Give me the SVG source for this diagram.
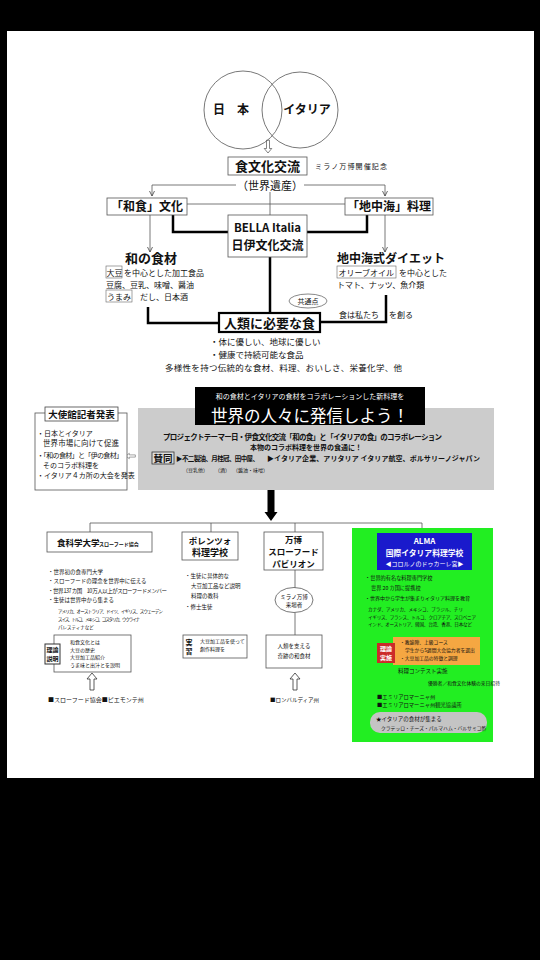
<svg xmlns="http://www.w3.org/2000/svg" width="540" height="960" viewBox="0 0 540 960">
<defs>
<style>
text{font-family:"Noto Sans CJK JP","Noto Sans",sans-serif;fill:#111}
.b{font-weight:bold}
.m{text-anchor:middle}
.w{fill:#fff}
.box{fill:#fff;stroke:#555;stroke-width:0.8}
.thin{stroke:#555;stroke-width:0.8;fill:none}
.thick{stroke:#000;stroke-width:2.5;fill:none}
.hol{fill:#fff;stroke:#333;stroke-width:0.8}
</style>
<marker id="ah" markerWidth="6" markerHeight="6" refX="5" refY="3" orient="auto" markerUnits="userSpaceOnUse"><path d="M0,0.5 L5,3 L0,5.5" fill="none" stroke="#444" stroke-width="0.8"/></marker>
<path id="hu" d="M0,0 L5,6 L2,6 L2,17 L-2,17 L-2,6 L-5,6 Z"/>
</defs>
<rect width="540" height="960" fill="#000"/>
<rect x="7" y="31" width="527" height="747" fill="#fff"/>

<g id="connectors">
<path class="thin" d="M152,185 H236 M304,185 H385"/>
<path class="thin" d="M152,185 V196" marker-end="url(#ah)"/>
<path class="thin" d="M385,185 V196" marker-end="url(#ah)"/>
<path class="thin" d="M270,192 V215"/>
<path class="thin" d="M187,204 H345"/>
<path class="thick" d="M173,215 V232 H228 M367,215 V232 H307"/>
<path class="thin" d="M150,215 V252" marker-end="url(#ah)"/>
<path class="thin" d="M385,215 V252" marker-end="url(#ah)"/>
<path class="thick" d="M270,257 V313"/>
<path class="thick" d="M148,307 V323 H219"/>
<path class="thick" d="M320,322 H386 V295"/>
<polygon points="267.5,490 274.5,490 274.5,512 277.5,512 271,521 264.5,512 267.5,512" fill="#000"/>
<path class="thin" d="M90,523 H422 M90,523 V532 M211,523 V532 M295,523 V532 M422,523 V528"/>
<path class="thin" d="M295,570 V588 M295,612.5 V635"/>
<use href="#hu" class="hol" transform="translate(268,153) rotate(180) scale(0.75)"/>
<use href="#hu" class="hol" transform="translate(126,456) rotate(-90) scale(0.55)"/>
<use href="#hu" class="hol" transform="translate(92,673)"/>
<use href="#hu" class="hol" transform="translate(295,673)"/>
<use href="#hu" class="hol" transform="translate(390,676)"/>
<path class="thin" d="M413,676 V692" marker-end="url(#ah)"/>
</g>

<g id="venn">
<circle cx="243" cy="110" r="39" fill="none" stroke="#555" stroke-width="0.8"/>
<circle cx="300" cy="110" r="38" fill="none" stroke="#555" stroke-width="0.8"/>
<text x="231" y="114" class="b m" font-size="12">日　本</text>
<text x="307" y="114" class="b m" font-size="12">イタリア</text>
</g>

<g id="shokubunka">
<rect x="228" y="157" width="79" height="18" class="box"/>
<text x="267.5" y="171" class="b m" font-size="13">食文化交流</text>
<text x="315" y="169" font-size="7" textLength="72">ミラノ万博開催記念</text>
<text x="270" y="190" class="m" font-size="11">（世界遺産）</text>
</g>

<g id="washoku">
<rect x="107" y="198" width="80" height="17" class="box"/>
<text x="147" y="211" class="b m" font-size="12">「和食」文化</text>
</g>

<g id="chichukai">
<rect x="345" y="198" width="88" height="17" class="box"/>
<text x="389" y="211" class="b m" font-size="12">「地中海」料理</text>
</g>

<g id="bella">
<rect x="228" y="215" width="79" height="42" class="box"/>
<text x="267.5" y="232" class="b m" font-size="11.5">BELLA Italia</text>
<text x="267.5" y="250" class="b m" font-size="12">日伊文化交流</text>
</g>

<g id="wanoshokuzai">
<text x="125" y="263" class="b" font-size="13">和の食材</text>
<rect x="106" y="266" width="16" height="12" fill="none" stroke="#666" stroke-width="0.6"/>
<text x="106.5" y="276" font-size="8">大豆</text>
<text x="124" y="276" font-size="8">を中心とした加工食品</text>
<text x="106" y="288" font-size="8">豆腐、豆乳、味噌、醤油</text>
<rect x="106" y="290" width="26" height="12" fill="none" stroke="#666" stroke-width="0.6"/>
<text x="107" y="300" font-size="8">うまみ</text>
<text x="140" y="300" font-size="8">だし、日本酒</text>
</g>

<g id="diet">
<text x="337" y="263" class="b" font-size="12">地中海式ダイエット</text>
<rect x="337" y="266" width="59" height="12" fill="none" stroke="#666" stroke-width="0.6"/>
<text x="338.5" y="276" font-size="8">オリーブオイル</text>
<text x="399" y="276" font-size="8">を中心とした</text>
<text x="337" y="288" font-size="8">トマト、ナッツ、魚介類</text>
</g>

<g id="kyotsuten">
<ellipse cx="308" cy="301" rx="19" ry="7" fill="#fff" stroke="#555" stroke-width="0.7"/>
<text x="308" y="304" class="m" font-size="7">共通点</text>
<text x="339" y="318" font-size="8">食は私たち</text>
<text x="389" y="318" font-size="8">を創る</text>
</g>

<g id="jinrui">
<rect x="219" y="313" width="101" height="19" fill="#fff" stroke="#000" stroke-width="2.2"/>
<text x="269.5" y="328" class="b m" font-size="13">人類に必要な食</text>
<text x="210" y="345" font-size="8.5">・体に優しい、地球に優しい</text>
<text x="210" y="358" font-size="8.5">・健康で持続可能な食品</text>
<text x="165" y="371" font-size="8.5" textLength="237">多様性を持つ伝統的な食材、料理、おいしさ、栄養化学、他</text>
</g>

<g id="hasshin">
<rect x="138" y="408" width="356" height="82" fill="#ccc"/>
<rect x="195" y="387" width="230" height="38" fill="#000"/>
<text x="310" y="399" class="m w" font-size="7">和の食材とイタリアの食材をコラボレーションした新料理を</text>
<text x="310" y="422" class="m w" font-size="16.5">世界の人々に発信しよう！</text>
<text x="163" y="440" class="b" font-size="7.5" textLength="279">プロジェクトテーマー日・伊食文化交流「和の食」と「イタリアの食」のコラボレーション</text>
<text x="306" y="450" class="b m" font-size="7">本物のコラボ料理を世界の食通に！</text>
<rect x="152" y="452" width="22" height="12" fill="#ddd" stroke="#333" stroke-width="0.8"/>
<text x="163" y="461.5" class="b m" font-size="9.5">賛同</text>
<text x="176" y="461" class="b" font-size="6.5" textLength="83">▶不二製油、月桂冠、田中屋、</text>
<text x="267" y="461" class="b" font-size="7" textLength="213">▶イタリア企業、アリタリア イタリア航空、ボルサリーノジャパン</text>
<text x="183" y="472" font-size="5">（豆乳他）</text>
<text x="215" y="472" font-size="5">（酒）</text>
<text x="233" y="472" font-size="5">（醤油・味噌）</text>
</g>

<g id="taishikan">
<rect x="35" y="413" width="92" height="77" class="box"/>
<rect x="45" y="407" width="73" height="14" fill="#fff" stroke="#444" stroke-width="0.8"/>
<text x="81.5" y="418" class="b m" font-size="9.5">大使館記者発表</text>
<text x="37" y="436" font-size="7">・日本とイタリア</text>
<text x="43" y="446" font-size="7.5" textLength="76">世界市場に向けて促進</text>
<text x="37" y="458" font-size="7" textLength="86">・「和の食材」と「伊の食材」</text>
<text x="43" y="468" font-size="7">そのコラボ料理を</text>
<text x="37" y="478" font-size="7">・イタリア４カ所の大会を発表</text>
</g>

<g id="shokukagaku">
<rect x="47" y="532" width="105" height="20" class="box"/>
<text x="57" y="546" class="b" font-size="8.5">食科学大学</text>
<text x="99" y="546" class="b" font-size="5">スローフード協会</text>
<text x="48" y="574" font-size="5.5">・世界初の食専門大学</text>
<text x="48" y="583" font-size="5.5">・スローフードの理念を世界中に伝える</text>
<text x="48" y="593" font-size="5.5" textLength="119">・世界 137 カ国　10 万人以上がスローフードメンバー</text>
<text x="48" y="602" font-size="5.5">・生徒は世界中から集まる</text>
<text x="58" y="613" font-size="4.5" textLength="105">アメリカ、オーストラリア、ドイツ、イギリス、スウェーデン</text>
<text x="58" y="621" font-size="4.5" textLength="82">スイス、トルコ、メキシコ、コスタリカ、ウクライナ</text>
<text x="58" y="629" font-size="4.5">パレスティナなど</text>
<rect x="54" y="635" width="77" height="37" class="box"/>
<rect x="45" y="644" width="15" height="20" fill="#fff" stroke="#333" stroke-width="1"/>
<text x="52.5" y="652" class="b m" font-size="6">理論</text>
<text x="52.5" y="661" class="b m" font-size="6">説明</text>
<text x="70" y="644" font-size="5">和食文化とは</text>
<text x="70" y="651.5" font-size="5">大豆の歴史</text>
<text x="70" y="659" font-size="5">大豆加工品紹介</text>
<text x="70" y="667" font-size="5">うま味と出汁とを説明</text>
<text x="48" y="702" font-size="6">■スローフード協会■ピエモンテ州</text>
</g>

<g id="pollenzo">
<rect x="182" y="532" width="56" height="28" class="box"/>
<text x="210" y="543.5" class="b m" font-size="8.5">ポレンツォ</text>
<text x="210" y="556" class="b m" font-size="9">料理学校</text>
<text x="185" y="578" font-size="5.5">・生徒に具体的な</text>
<text x="191" y="588" font-size="5.5">大豆加工品など説明</text>
<text x="191" y="598" font-size="5.5">料理の教科</text>
<text x="185" y="609" font-size="5.5">・修士生徒</text>
<rect x="183" y="635" width="64" height="23" class="box"/>
<text x="189" y="644.5" class="b m" font-size="7">実</text>
<text x="189" y="653.5" class="b m" font-size="7">習</text>
<text x="200" y="643" font-size="5">大豆加工品を使って</text>
<text x="200" y="651" font-size="5">創作料理を</text>
</g>

<g id="pavilion">
<rect x="264" y="532" width="59" height="38" class="box"/>
<text x="293.5" y="543" class="b m" font-size="8.5">万博</text>
<text x="293.5" y="555" class="b m" font-size="8.5">スローフード</text>
<text x="293.5" y="567" class="b m" font-size="8.5">パビリオン</text>
<ellipse cx="294" cy="600" rx="19" ry="12.5" fill="#fff" stroke="#555" stroke-width="0.8"/>
<text x="294" y="599" class="m" font-size="5.5">ミラノ万博</text>
<text x="294" y="607" class="m" font-size="5.5">来場者</text>
<rect x="266" y="635" width="56" height="33" class="box"/>
<text x="294" y="648" class="m" font-size="5.5">人類を支える</text>
<text x="294" y="658" class="m" font-size="5.5">奇跡の和食材</text>
<text x="270" y="702" font-size="5.5">■ロンバルディア州</text>
</g>

<g id="alma">
<rect x="352" y="528" width="141" height="214" fill="#22ee22"/>
<rect x="377" y="533" width="95" height="37" fill="#1a1acc"/>
<text x="424.5" y="544" class="b m w" font-size="8">ALMA</text>
<text x="424.5" y="556" class="b m w" font-size="7.8">国際イタリア料理学校</text>
<text x="424.5" y="566" class="m w" font-size="6">◀コロルノのドゥカーレ宮▶</text>
<text x="365" y="580" font-size="5.2">・世界的有名な料理専門学校</text>
<text x="371" y="590" font-size="5.2">世界 20 カ国に提携校</text>
<text x="365" y="600" font-size="5" textLength="105">・世界中から学生が集まりイタリア料理を教育</text>
<text x="368" y="611" font-size="4.6" textLength="95">カナダ、アメリカ、メキシコ、ブラジル、チリ</text>
<text x="368" y="618.5" font-size="4.6" textLength="108">イギリス、フランス、トルコ、クロアチア、スロベニア</text>
<text x="368" y="626" font-size="4.6" textLength="104">インド、オーストリア、韓国、台湾、香港、日本など</text>
<rect x="393" y="637" width="87" height="28" fill="#f5a742"/>
<rect x="377" y="643" width="18" height="20" fill="#cc2a2a"/>
<text x="386" y="651" class="b m w" font-size="6">理論</text>
<text x="386" y="660" class="b m w" font-size="6">実施</text>
<text x="400" y="644" font-size="4.8">・教諭陣、上級コース</text>
<text x="405" y="652" font-size="4.8">学生から5週間大会協力者を選出</text>
<text x="400" y="660" font-size="4.8">・大豆加工品の特徴と調理</text>
<text x="398" y="673" font-size="5.5">料理コンテスト実施</text>
<text x="428" y="685" font-size="4.8">優勝者／和食文化体験の来日招待</text>
<text x="377" y="699" font-size="5.3">■エミリアロマーニャ州</text>
<text x="377" y="707" font-size="5.3">■エミリアロマーニャ州観光協議所</text>
<rect x="370" y="712" width="117" height="21" rx="10" fill="#c4c4c4"/>
<text x="376" y="721" font-size="5.5">★イタリアの食材が集まる</text>
<text x="381" y="730" font-size="4.8">クラテッロ・チーズ・パルマハム・バルサミコ酢</text>
</g>
</svg>
